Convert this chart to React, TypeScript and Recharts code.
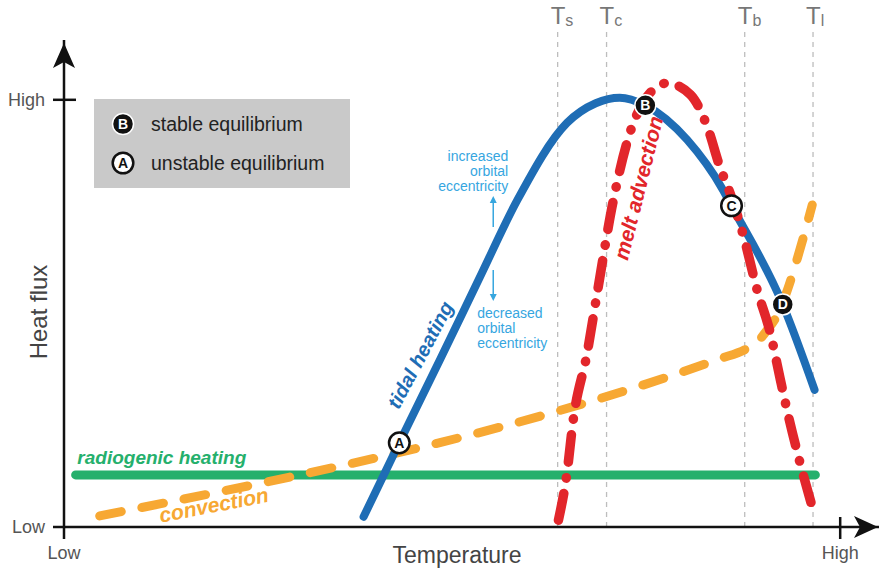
import React from 'react';
import { LineChart, Line, XAxis, YAxis, ReferenceLine, ReferenceDot } from 'recharts';

const FONT = '"Liberation Sans", Arial, Helvetica, sans-serif';

// Normalised axes: 0 = Low, 100 = High (extra room above for the arrow heads)
const X_MAX = 105;
const Y_MAX = 114;

const axisTicks = [0, 100];
const axisTickLabels = ['Low', 'High'];

const radiogenicHeating = [
  { x: 1.5, y: 12.2 },
  { x: 96.8, y: 12.2 },
];

const convection = [
  { x: 4.6, y: 2.6 },
  { x: 84.5, y: 39.4 },
  { x: 87.8, y: 41.6 },
  { x: 89.3, y: 43.3 },
  { x: 90.6, y: 46.1 },
  { x: 91.9, y: 49.6 },
  { x: 93.2, y: 55.5 },
  { x: 94.5, y: 63.0 },
  { x: 95.7, y: 70.7 },
  { x: 96.4, y: 75.4 },
];

const tidalHeating = [
  { x: 38.6, y: 2.4 },
  { x: 43.2, y: 19.7 },
  { x: 48.5, y: 39.4 },
  { x: 53.4, y: 57.8 },
  { x: 58.4, y: 76.5 },
  { x: 64.8, y: 94.6 },
  { x: 68.5, y: 99.2 },
  { x: 71.6, y: 100.5 },
  { x: 74.9, y: 98.7 },
  { x: 80.3, y: 90.6 },
  { x: 84.9, y: 78.9 },
  { x: 86.0, y: 75.2 },
  { x: 92.6, y: 52.1 },
  { x: 96.7, y: 32.1 },
];

const meltAdvection = [
  { x: 63.7, y: 1.6 },
  { x: 64.8, y: 12.6 },
  { x: 65.6, y: 25.0 },
  { x: 67.4, y: 40.7 },
  { x: 68.7, y: 54.8 },
  { x: 70.7, y: 75.8 },
  { x: 72.9, y: 92.2 },
  { x: 75.1, y: 100.7 },
  { x: 77.7, y: 103.9 },
  { x: 80.7, y: 101.2 },
  { x: 82.9, y: 93.6 },
  { x: 84.5, y: 84.3 },
  { x: 85.8, y: 78.2 },
  { x: 87.5, y: 68.4 },
  { x: 89.3, y: 55.5 },
  { x: 91.0, y: 45.4 },
  { x: 92.3, y: 34.4 },
  { x: 93.3, y: 26.2 },
  { x: 94.5, y: 17.3 },
  { x: 96.4, y: 4.7 },
];

const temperatureMarks = [
  { sub: 's', x: 63.6 },
  { sub: 'c', x: 69.9 },
  { sub: 'b', x: 87.7 },
  { sub: 'l', x: 96.5 },
];

const equilibria = [
  { id: 'A', x: 43.2, y: 19.7, stable: false },
  { id: 'B', x: 74.9, y: 98.7, stable: true },
  { id: 'C', x: 86.0, y: 75.2, stable: false },
  { id: 'D', x: 92.6, y: 52.1, stable: true },
];

const legendItems = [
  { id: 'B', stable: true, text: 'stable equilibrium' },
  { id: 'A', stable: false, text: 'unstable equilibrium' },
];

const BLUE = '#1f6db5';
const RED = '#e2262b';
const ORANGE = '#f7a833';
const GREEN = '#25b06c';
const LIGHT_BLUE = '#36a6df';

const EqMarker = ({ cx, cy, id, stable }: any) =>
  stable ? (
    <g>
      <circle cx={cx} cy={cy} r={10.5} fill="#111" stroke="#fff" strokeWidth={1.5} />
      <text x={cx} y={cy + 5} textAnchor="middle" fontSize={14} fontWeight="bold" fill="#fff" fontFamily={FONT}>
        {id}
      </text>
    </g>
  ) : (
    <g>
      <circle cx={cx} cy={cy} r={10.3} fill="#fff" stroke="#111" strokeWidth={2.5} />
      <text x={cx} y={cy + 5} textAnchor="middle" fontSize={14} fontWeight="bold" fill="#111" fontFamily={FONT}>
        {id}
      </text>
    </g>
  );

const YTick = (props: any) => {
  const { x, y, payload } = props;
  const high = payload.value === 100;
  return (
    <g>
      <line x1={x - 11} x2={high ? x + 12 : x} y1={y} y2={y} stroke="#111" strokeWidth={2.5} />
      <text x={x - 19} y={y + 6} textAnchor="end" fontSize={18} fill="#555" fontFamily={FONT}>
        {axisTickLabels[axisTicks.indexOf(payload.value)]}
      </text>
    </g>
  );
};

const XTick = (props: any) => {
  const { x, y, payload } = props;
  const high = payload.value === 100;
  return (
    <g>
      <line x1={x} x2={x} y1={high ? y - 10 : y} y2={y + 12} stroke="#111" strokeWidth={2.5} />
      <text x={x} y={y + 32} textAnchor="middle" fontSize={18} fill="#555" fontFamily={FONT}>
        {axisTickLabels[axisTicks.indexOf(payload.value)]}
      </text>
    </g>
  );
};

const rotatedLabel = (text: string, angle: number, color: string, size: number, weight: string) =>
  (p: any) => (
    <text
      x={p.cx}
      y={p.cy}
      transform={`rotate(${angle} ${p.cx} ${p.cy})`}
      textAnchor="middle"
      dominantBaseline="central"
      fontSize={size}
      fontStyle="italic"
      fontWeight={weight}
      fill={color}
      fontFamily={FONT}
    >
      {text}
    </text>
  );

const EccentricityNote = ({ cx, cy }: any) => {
  const t = { fontSize: 14, fill: LIGHT_BLUE, fontFamily: FONT } as any;
  return (
    <g>
      <text x={cx + 15} y={cy - 87} textAnchor="end" {...t}>increased</text>
      <text x={cx + 15} y={cy - 72} textAnchor="end" {...t}>orbital</text>
      <text x={cx + 15} y={cy - 57} textAnchor="end" {...t}>eccentricity</text>
      <line x1={cx} x2={cx} y1={cy - 21} y2={cy - 46} stroke={LIGHT_BLUE} strokeWidth={1.5} />
      <path d={`M${cx},${cy - 52} L${cx - 3.5},${cy - 45} L${cx + 3.5},${cy - 45} Z`} fill={LIGHT_BLUE} />
      <line x1={cx} x2={cx} y1={cy + 22} y2={cy + 47} stroke={LIGHT_BLUE} strokeWidth={1.5} />
      <path d={`M${cx},${cy + 53} L${cx - 3.5},${cy + 46} L${cx + 3.5},${cy + 46} Z`} fill={LIGHT_BLUE} />
      <text x={cx - 16} y={cy + 70} {...t}>decreased</text>
      <text x={cx - 16} y={cy + 85} {...t}>orbital</text>
      <text x={cx - 16} y={cy + 100} {...t}>eccentricity</text>
    </g>
  );
};

const TLabel = (sub: string) => (p: any) => (
  <text x={p.cx - 7} y={p.cy - 7} fontFamily={FONT} fill="#777">
    <tspan fontSize={24}>T</tspan>
    <tspan fontSize={16} dy={2}>{sub}</tspan>
  </text>
);

export default function App() {
  return (
    <div style={{ position: 'absolute', left: 0, top: 0, width: 880, height: 573, background: '#fff' }}>
      <LineChart width={880} height={573} margin={{ top: 40, right: 1, bottom: 0, left: 0 }}>
        <XAxis
          type="number"
          dataKey="x"
          domain={[0, X_MAX]}
          ticks={axisTicks}
          height={46}
          tickSize={0}
          tickMargin={0}
          tickLine={false}
          axisLine={{ stroke: '#111', strokeWidth: 2.5 }}
          tick={<XTick />}
          allowDataOverflow
        />
        <YAxis
          type="number"
          dataKey="y"
          domain={[0, Y_MAX]}
          ticks={axisTicks}
          width={64}
          tickSize={0}
          tickMargin={0}
          tickLine={false}
          axisLine={{ stroke: '#111', strokeWidth: 2.5 }}
          tick={<YTick />}
          allowDataOverflow
        />

        {temperatureMarks.map((t) => (
          <ReferenceLine
            key={`line-${t.sub}`}
            segment={[{ x: t.x, y: 0 }, { x: t.x, y: 116 }]}
            ifOverflow="visible"
            stroke="#bdbdbd"
            strokeWidth={1.3}
            strokeDasharray="5 5"
          />
        ))}
        {temperatureMarks.map((t) => (
          <ReferenceDot key={`lab-${t.sub}`} x={t.x} y={116} ifOverflow="visible" shape={TLabel(t.sub)} />
        ))}

        <Line data={radiogenicHeating} dataKey="y" type="linear" stroke={GREEN} strokeWidth={9}
          strokeLinecap="round" dot={false} activeDot={false} isAnimationActive={false} />
        <Line data={convection} dataKey="y" type="monotone" stroke={ORANGE} strokeWidth={9}
          strokeLinecap="round" strokeDasharray="22 21" dot={false} activeDot={false} isAnimationActive={false} />
        <Line data={tidalHeating} dataKey="y" type="monotone" stroke={BLUE} strokeWidth={8}
          strokeLinecap="round" dot={false} activeDot={false} isAnimationActive={false} />
        <Line data={meltAdvection} dataKey="y" type="monotone" stroke={RED} strokeWidth={9.5}
          strokeLinecap="round" strokeDasharray="27.5 15.5 0.5 15.5" dot={false} activeDot={false} isAnimationActive={false} />

        {/* axis arrow heads */}
        <ReferenceDot x={X_MAX} y={0} ifOverflow="visible"
          shape={(p: any) => (
            <path d={`M${p.cx - 1},${p.cy} L${p.cx - 25},${p.cy - 11} L${p.cx - 19},${p.cy} L${p.cx - 25},${p.cy + 11} Z`} fill="#111" />
          )} />
        <ReferenceDot x={0} y={Y_MAX} ifOverflow="visible"
          shape={(p: any) => (
            <path d={`M${p.cx},${p.cy + 3} L${p.cx - 11},${p.cy + 28} L${p.cx},${p.cy + 22} L${p.cx + 11},${p.cy + 28} Z`} fill="#111" />
          )} />

        {/* curve labels */}
        <ReferenceDot x={12.6} y={16.2} ifOverflow="visible" shape={rotatedLabel('radiogenic heating', 0, GREEN, 19, 'bold')} />
        <ReferenceDot x={19.3} y={5.2} ifOverflow="visible" shape={rotatedLabel('convection', -11, ORANGE, 21, '600')} />
        <ReferenceDot x={45.9} y={40.3} ifOverflow="visible" shape={rotatedLabel('tidal heating', -62, BLUE, 20, '600')} />
        <ReferenceDot x={74.0} y={79.4} ifOverflow="visible" shape={rotatedLabel('melt advection', -76, RED, 21, '600')} />
        <ReferenceDot x={55.3} y={65.3} ifOverflow="visible" shape={EccentricityNote} />

        {equilibria.map((e) => (
          <ReferenceDot key={e.id} x={e.x} y={e.y} ifOverflow="visible"
            shape={(p: any) => <EqMarker cx={p.cx} cy={p.cy} id={e.id} stable={e.stable} />} />
        ))}

        {/* legend box */}
        <g>
          <rect x={94} y={99} width={256} height={89} fill="#c9c9c9" />
          {legendItems.map((item, i) => (
            <g key={item.id}>
              <EqMarker cx={123} cy={124 + i * 39} id={item.id} stable={item.stable} />
              <text x={151} y={131 + i * 39} fontSize={19.5} fill="#222" fontFamily={FONT}>
                {item.text}
              </text>
            </g>
          ))}
        </g>

        {/* axis titles */}
        <text x={38} y={312} transform="rotate(-90 38 312)" textAnchor="middle" dominantBaseline="central"
          fontSize={24} fill="#444" fontFamily={FONT}>
          Heat flux
        </text>
        <text x={457} y={563} textAnchor="middle" fontSize={23} fill="#444" fontFamily={FONT}>
          Temperature
        </text>
      </LineChart>
    </div>
  );
}
